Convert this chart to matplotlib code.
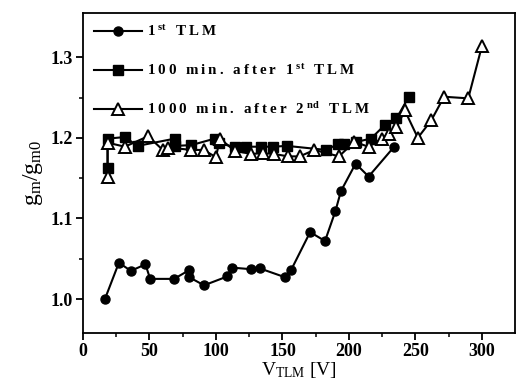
import numpy as np
import matplotlib
matplotlib.use('Agg')
import matplotlib.pyplot as plt

plt.rcParams['font.family'] = ['Liberation Serif', 'DejaVu Serif']
plt.rcParams['mathtext.fontset'] = 'custom'
plt.rcParams['mathtext.rm'] = 'Liberation Serif'
plt.rcParams['mathtext.it'] = 'Liberation Serif'
plt.rcParams['mathtext.bf'] = 'Liberation Serif:bold'

# 1st TLM (filled circles)
v1 = [16.5, 27, 36, 47, 50.5, 68.5, 80, 80, 91, 108.5, 112, 126.5, 133, 152, 156.5,
      170.8, 182, 189.8, 194, 205, 214.8, 234]
g1 = [1.000, 1.045, 1.035, 1.043, 1.025, 1.025, 1.036, 1.027, 1.017, 1.028, 1.039, 1.037,
      1.038, 1.027, 1.036, 1.083, 1.072, 1.109, 1.134, 1.168, 1.152, 1.189]

# 100 min after 1st TLM (filled squares)
v2 = [18.5, 18.5, 31.5, 41, 69, 69.5, 81.5, 99, 102, 114, 122.7, 134, 142.7, 153.5,
      182.7, 191.5, 196.5, 205.5, 216.5, 227, 235.7, 245]
g2 = [1.162, 1.199, 1.201, 1.190, 1.199, 1.190, 1.191, 1.199, 1.193, 1.189, 1.189, 1.189,
      1.189, 1.190, 1.185, 1.192, 1.192, 1.195, 1.199, 1.216, 1.224, 1.251]

# 1000 min after 2nd TLM (open triangles)
v3 = [18.5, 18.5, 31.5, 49, 60, 64, 81.5, 90.7, 100, 103, 114, 126.5, 135, 144, 154,
      163, 174, 192.5, 204, 214.7, 224.8, 229.8, 235.7, 242, 251.8, 262, 271.5, 289.7, 300]
g3 = [1.152, 1.194, 1.189, 1.202, 1.185, 1.188, 1.185, 1.185, 1.176, 1.199, 1.184, 1.180,
      1.181, 1.180, 1.177, 1.177, 1.185, 1.177, 1.195, 1.189, 1.199, 1.205, 1.213, 1.234,
      1.200, 1.222, 1.251, 1.249, 1.314]

labels = ['1$^{\\mathbf{st}}$ TLM',
          '100 min. after 1$^{\\mathbf{st}}$ TLM',
          '1000 min. after 2$^{\\mathbf{nd}}$ TLM']


def spaced(s):
    # fake the wide letter spacing of the original legend
    out = []
    i = 0
    while i < len(s):
        if s[i] == '$':
            j = s.index('$', i + 1)
            out.append(s[i:j + 1])
            i = j + 1
        else:
            out.append(s[i])
            i += 1
    return '\u2009'.join(out)


fig = plt.figure(figsize=(5.17, 3.8), dpi=100)
ax = fig.add_axes([0.1605, 0.124, 0.836, 0.842])

ax.plot(v1, g1, '-o', color='black', lw=1.5, ms=6.5, label=spaced(labels[0]))
ax.plot(v2, g2, '-s', color='black', lw=1.5, ms=6.5, label=spaced(labels[1]))
ax.plot(v3, g3, '-^', color='black', lw=1.5, ms=8, mfc='white', mew=1.4,
        label=spaced(labels[2]))

ax.set_xlim(0, 325)
ax.set_ylim(0.958, 1.355)
ax.set_xticks([0, 50, 100, 150, 200, 250, 300])
ax.set_xticks(np.arange(25, 325, 50), minor=True)
ax.set_yticks([1.0, 1.1, 1.2, 1.3])
ax.set_yticks([1.05, 1.15, 1.25], minor=True)
ax.tick_params(which='major', direction='out', length=5, width=1.3, labelsize=13, pad=2)
ax.tick_params(which='minor', direction='out', length=3, width=1.1)
for lab in ax.get_xticklabels() + ax.get_yticklabels():
    lab.set_fontweight('bold')
for sp in ax.spines.values():
    sp.set_linewidth(1.3)

ax.set_xlabel('V$_{\\mathrm{TLM}}$ [V]', fontsize=14, labelpad=0)
ax.set_ylabel('g$_{\\mathrm{m}}$/g$_{\\mathrm{m0}}$', fontsize=17, labelpad=4)

leg = ax.legend(loc='upper left', frameon=False, labelspacing=1.55,
                handlelength=3.2, handletextpad=0.35, borderaxespad=0.35,
                prop={'weight': 'bold', 'size': 10.8})

fig.savefig('out.png', dpi=100)
